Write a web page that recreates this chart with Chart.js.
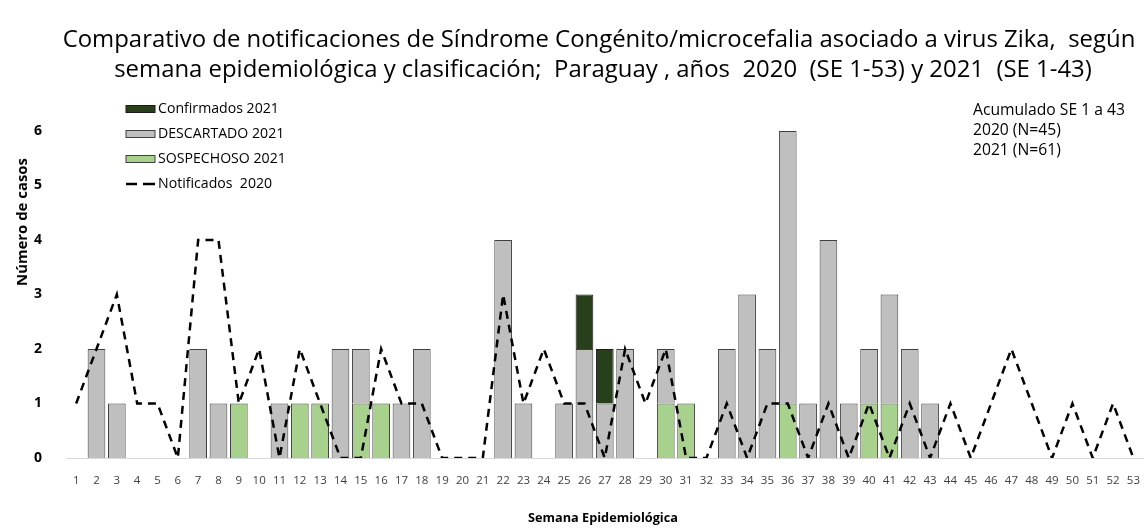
<!DOCTYPE html>
<html>
<head>
<meta charset="utf-8">
<script src="https://cdn.jsdelivr.net/npm/chart.js@4.4.1/dist/chart.umd.min.js"></script>
<style>
  html, body { margin: 0; padding: 0; background: #fff; }
  #wrap { width: 1148px; height: 529px; }
</style>
</head>
<body>
<div id="wrap"><canvas id="chart" width="1148" height="529"></canvas></div>
<script>
const weeks = ['1','2','3','4','5','6','7','8','9','10','11','12','13','14','15','16','17','18','19','20','21','22','23','24','25','26','27','28','29','30','31','32','33','34','35','36','37','38','39','40','41','42','43','44','45','46','47','48','49','50','51','52','53']

// 2021 por clasificación (SE 1-43)
const sospechoso2021 = [0,0,0,0,0,0,0,0,1,0,0,1,1,0,1,1,0,0,0,0,0,0,0,0,0,0,0,0,0,1,1,0,0,0,0,1,0,0,0,1,1,0,0]
const descartado2021 = [0,2,1,0,0,0,2,1,0,0,1,0,0,2,1,0,1,2,0,0,0,4,1,0,1,2,1,2,0,1,0,0,2,3,2,5,1,4,1,1,2,2,1]
const confirmados2021 = [0,0,0,0,0,0,0,0,0,0,0,0,0,0,0,0,0,0,0,0,0,0,0,0,0,1,1,0,0,0,0,0,0,0,0,0,0,0,0,0,0,0,0]

// 2020 notificados (SE 1-53)
const notificados2020 = [1,2,3,1,1,0,4,4,1,2,0,2,1,0,0,2,1,1,0,0,0,3,1,2,1,1,0,2,1,2,0,0,1,0,1,1,0,1,0,1,0,1,0,1,0,1,2,1,0,1,0,1,0]

const yTicks = [0, 1, 2, 3, 4, 5, 6]

const titleLines = [
  'Comparativo de notificaciones de Síndrome Congénito/microcefalia asociado a virus Zika,  según',
  'semana epidemiológica y clasificación;  Paraguay , años  2020  (SE 1-53) y 2021  (SE 1-43)'
]
const noteLines = ['Acumulado SE 1 a 43', '2020 (N=45)', '2021 (N=61)']

const FONT = '"Open Sans", Lato, sans-serif'

// pick a font size so that text gets about the width it has in the original
function fitFont(ctx, text, width, weight) {
  const w = weight ? weight + ' ' : ''
  ctx.font = w + '20px ' + FONT
  const size = 20 * width / ctx.measureText(text).width
  ctx.font = w + size.toFixed(2) + 'px ' + FONT
}

const extras = {
  id: 'extras',
  afterDraw(chart) {
    const ctx = chart.ctx
    ctx.save()
    ctx.fillStyle = '#000'
    ctx.textBaseline = 'middle'

    // title
    fitFont(ctx, titleLines[0], 1073)
    ctx.textAlign = 'center'
    ctx.fillText(titleLines[0], 599, 40)
    ctx.fillText(titleLines[1], 603, 70)

    // note top right
    fitFont(ctx, noteLines[0], 152)
    ctx.textAlign = 'left'
    noteLines.forEach((t, i) => ctx.fillText(t, 973, 111 + i * 20))

    // axis titles
    ctx.textAlign = 'center'
    fitFont(ctx, 'Semana Epidemiológica', 150, 'bold')
    ctx.fillText('Semana Epidemiológica', 603, 518)
    fitFont(ctx, 'Número de casos', 128, 'bold')
    ctx.save()
    ctx.translate(23, 222)
    ctx.rotate(-Math.PI / 2)
    ctx.fillText('Número de casos', 0, 0)
    ctx.restore()

    // legend
    const ds = chart.data.datasets
    const items = [ds[2], ds[1], ds[0]]
    fitFont(ctx, 'Confirmados 2021', 121)
    ctx.textAlign = 'left'
    items.forEach((d, i) => {
      const cy = 109 + i * 25
      ctx.fillStyle = d.backgroundColor
      ctx.fillRect(126, cy - 3.5, 29, 7)
      ctx.strokeStyle = d.borderColor
      ctx.lineWidth = 1
      ctx.strokeRect(126, cy - 3.5, 29, 7)
      ctx.fillStyle = '#000'
      ctx.fillText(d.label, 158, cy)
    })
    const ly = 184
    ctx.strokeStyle = '#000'
    ctx.lineWidth = 2.5
    ctx.beginPath()
    ctx.moveTo(126, ly); ctx.lineTo(137, ly)
    ctx.moveTo(143, ly); ctx.lineTo(155, ly)
    ctx.stroke()
    ctx.fillText(ds[3].label, 158, ly)
    ctx.restore()
  }
}

new Chart(document.getElementById('chart'), {
  data: {
    labels: weeks,
    datasets: [
      {
        type: 'bar',
        label: 'SOSPECHOSO 2021',
        data: sospechoso2021,
        backgroundColor: '#A9D18E',
        borderColor: '#404040',
        borderWidth: 1,
        stack: 'y2021',
        order: 1,
        barPercentage: 0.87,
        categoryPercentage: 1
      },
      {
        type: 'bar',
        label: 'DESCARTADO 2021',
        data: descartado2021,
        backgroundColor: '#BFBFBF',
        borderColor: '#404040',
        borderWidth: 1,
        stack: 'y2021',
        order: 1,
        barPercentage: 0.87,
        categoryPercentage: 1
      },
      {
        type: 'bar',
        label: 'Confirmados 2021',
        data: confirmados2021,
        backgroundColor: '#283F1C',
        borderColor: '#1a1a1a',
        borderWidth: 1,
        stack: 'y2021',
        order: 1,
        barPercentage: 0.87,
        categoryPercentage: 1
      },
      {
        type: 'line',
        label: 'Notificados  2020',
        data: notificados2020,
        borderColor: '#000',
        borderWidth: 2.5,
        borderDash: [8, 6],
        pointRadius: 0,
        fill: false,
        tension: 0,
        stack: 'l2020',
        order: 0
      }
    ]
  },
  options: {
    responsive: false,
    animation: false,
    layout: { padding: { top: 131, left: 0, right: 2, bottom: 0 } },
    plugins: {
      legend: { display: false },
      title: { display: false },
      tooltip: { enabled: false }
    },
    scales: {
      x: {
        stacked: true,
        grid: { display: false },
        border: { display: true, color: '#D9D9D9', width: 1 },
        ticks: {
          color: '#404040',
          font: { family: FONT, size: 11.5 },
          maxRotation: 0,
          autoSkip: false,
          padding: 8
        },
        afterFit(scale) { scale.height = 71 }
      },
      y: {
        stacked: true,
        min: 0,
        max: 6,
        grid: { display: false },
        border: { display: false },
        afterBuildTicks(scale) { scale.ticks = yTicks.map(v => ({ value: v })) },
        ticks: {
          color: '#000',
          font: { family: FONT, size: 14, weight: 'bold' },
          padding: 16
        },
        afterFit(scale) { scale.width = 66 }
      }
    }
  },
  plugins: [extras]
})
</script>
</body>
</html>
